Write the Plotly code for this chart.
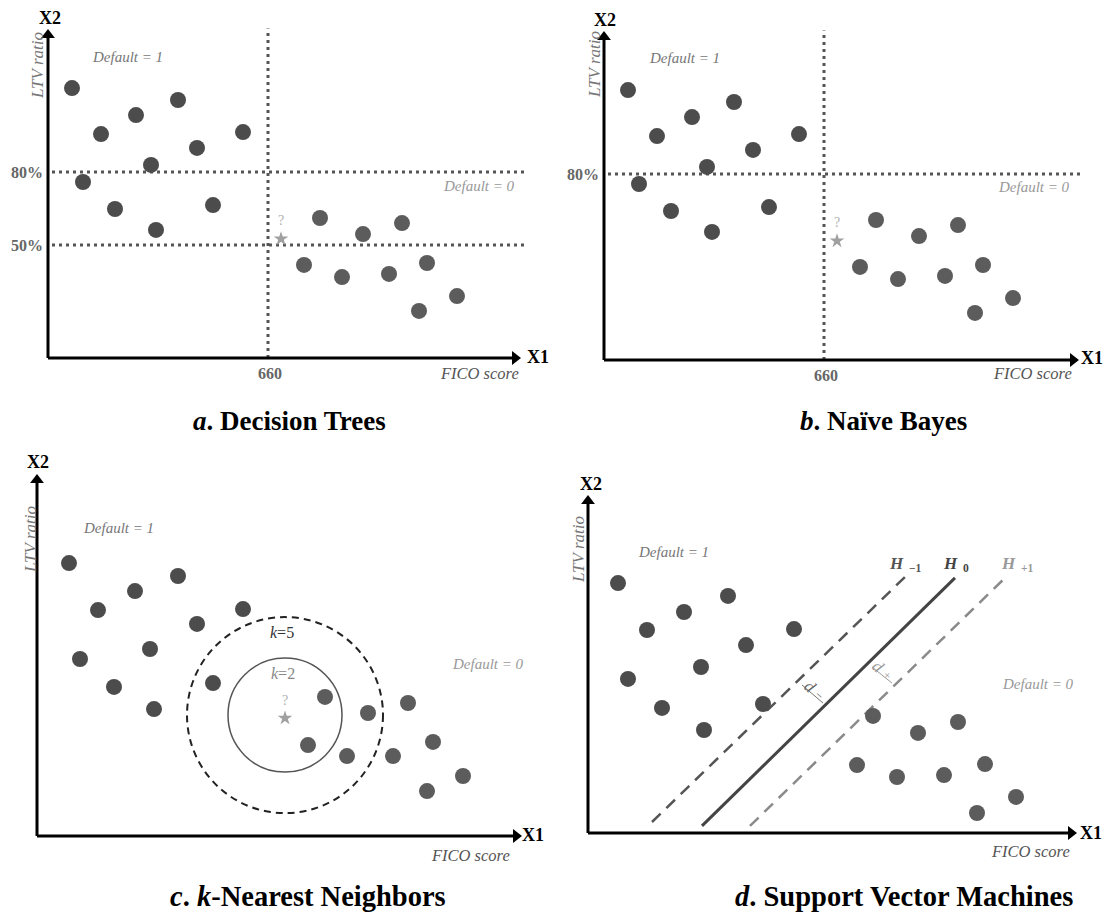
import plotly.graph_objects as go

W, H = 1104, 914
PX_PER_LTV = 73 / 30          # vertical pixels per LTV percentage point
SERIF = "Liberation Serif"

# ---------------- data (FICO score, LTV ratio in %) ----------------
# Applicants shown in panels a and b
AB_FICO_DEFAULT1 = [464, 493, 528, 570, 543, 589, 635, 475, 507, 605, 548]
AB_LTV_DEFAULT1 = [114.5, 95.6, 103.4, 109.6, 82.9, 89.9, 96.4, 75.9, 64.8, 66.4, 56.2]
AB_FICO_DEFAULT0 = [712, 755, 794, 696, 734, 781, 819, 811, 849]
AB_LTV_DEFAULT0 = [61.1, 54.5, 59.0, 41.8, 36.8, 38.1, 42.6, 22.9, 29.0]
AB_QUERY_FICO, AB_QUERY_LTV = 673, 52.5

# Applicants shown in panel c
C_FICO_DEFAULT1 = [462, 491, 528, 571, 543, 590, 636, 473, 507, 606, 547]
C_LTV_DEFAULT1 = [115.3, 96.0, 103.8, 110.0, 80.0, 90.3, 96.4, 75.9, 64.4, 66.0, 55.3]
C_FICO_DEFAULT0 = [718, 761, 801, 701, 740, 786, 826, 820, 856]
C_LTV_DEFAULT0 = [60.3, 53.7, 57.8, 40.5, 36.0, 36.0, 41.8, 21.6, 27.8]
C_QUERY_FICO, C_QUERY_LTV = 678, 51.6
K_RADII_PX = {"k=2": 57, "k=5": 98}

# Applicants shown in panel d
D_FICO_DEFAULT1 = [464, 493, 530, 574, 592, 640, 547, 474, 508, 609, 550]
D_LTV_DEFAULT1 = [114.5, 95.2, 102.6, 109.2, 89.0, 95.6, 80.0, 75.1, 63.2, 64.8, 54.1]
D_FICO_DEFAULT0 = [719, 764, 804, 703, 743, 790, 831, 823, 862]
D_LTV_DEFAULT0 = [59.9, 52.9, 57.4, 39.7, 34.8, 35.6, 40.1, 20.0, 26.6]
# Hyperplanes (two end points each)
H_MINUS1 = ([498, 751], [16.3, 117.0])
H_ZERO = ([548, 801], [14.7, 116.6])
H_PLUS1 = ([596, 851], [14.7, 116.6])
MARGIN_MINUS = ([648, 669], [72.6, 65.2])
MARGIN_PLUS = ([718, 738], [80.0, 73.4])

# Split rules
FICO_SPLIT = 660
LTV_SPLITS_TREE = [80, 50]
LTV_SPLITS_BAYES = [80]

# ---------------- panel layout ----------------
# box = (left, top, right, bottom) in px; dx: px = fico + dx ; y80: px row of LTV 80%
PANELS = {
    "a": dict(box=(0, 0, 552, 400), dx=-392, y80=172, ax="", origin=(440, 3.56), tip=(912, 138.4)),
    "b": dict(box=(552, 0, 1104, 400), dx=164, y80=174, ax="2", origin=(440, 3.56), tip=(914, 138.4)),
    "c": dict(box=(0, 440, 552, 870), dx=-393, y80=649, ax="3", origin=(430, 3.15), tip=(914, 151.5)),
    "d": dict(box=(552, 440, 1104, 870), dx=154, y80=667, ax="4", origin=(434, 11.8), tip=(922, 150.3)),
}

fig = go.Figure()
layout = dict(
    width=W, height=H, margin=dict(l=0, r=0, t=0, b=0),
    paper_bgcolor="white", plot_bgcolor="white", showlegend=False,
)
for key, p in PANELS.items():
    l, t, r, b = p["box"]
    ax = p["ax"]
    layout["xaxis" + ax] = dict(domain=[l / W, r / W], range=[l - p["dx"], r - p["dx"]],
                                visible=False, anchor="y" + ax, fixedrange=True)
    layout["yaxis" + ax] = dict(domain=[1 - b / H, 1 - t / H],
                                range=[80 - (b - p["y80"]) / PX_PER_LTV, 80 + (p["y80"] - t) / PX_PER_LTV],
                                visible=False, anchor="x" + ax, fixedrange=True)
fig.update_layout(**layout)

shapes, annotations = [], []


def paper(px, py):
    return px / W, 1 - py / H


def text(px, py, s, size=14, color="#777", italic=False, bold=False, angle=0, xanchor="center"):
    x, y = paper(px, py)
    annotations.append(dict(
        x=x, y=y, xref="paper", yref="paper", text=s, showarrow=False, textangle=angle,
        xanchor=xanchor, yanchor="middle",
        font=dict(family=SERIF, size=size, color=color,
                  style="italic" if italic else "normal", weight="bold" if bold else "normal"),
    ))


def subscripted(px, py, main, sub, size, color, bold=False):
    """Italic symbol ending at px with a smaller subscript right after it."""
    text(px, py, main, size, color, italic=True, bold=bold, xanchor="right")
    text(px + 1, py + size * 0.3, sub, size * 0.68, color, bold=bold, xanchor="left")


def dots(key, fx, fy, color):
    ax = PANELS[key]["ax"]
    fig.add_trace(go.Scatter(x=fx, y=fy, mode="markers", xaxis="x" + ax, yaxis="y" + ax,
                             marker=dict(size=16, color=color), cliponaxis=False, hoverinfo="skip"))


def query(key, fx, fy):
    ax = PANELS[key]["ax"]
    fig.add_trace(go.Scatter(x=[fx], y=[fy], mode="markers", xaxis="x" + ax, yaxis="y" + ax,
                             marker=dict(symbol="star", size=11, color="#a0a0a0"),
                             cliponaxis=False, hoverinfo="skip"))
    annotations.append(dict(x=fx, y=fy, xref="x" + ax, yref="y" + ax, text="?", showarrow=False,
                            yshift=18, font=dict(family=SERIF, size=14, color="#b0b0b0")))


def line(key, xs, ys, color, width, dash="solid", layer="below"):
    ax = PANELS[key]["ax"]
    shapes.append(dict(type="line", xref="x" + ax, yref="y" + ax, x0=xs[0], x1=xs[1], y0=ys[0], y1=ys[1],
                       line=dict(color=color, width=width, dash=dash), layer=layer))


def axes_arrows(key):
    """Draw the X1 / X2 axis lines with filled arrow heads ending at the tips."""
    p = PANELS[key]
    ax = p["ax"]
    ox, oy = p["origin"]
    tx, ty = p["tip"]
    hx, hy = tx - 5, ty - 5 / PX_PER_LTV      # centre of each head
    line(key, [ox, hx], [oy, oy], "black", 3, layer="above")
    line(key, [ox, ox], [oy, hy], "black", 3, layer="above")
    fig.add_trace(go.Scatter(x=[hx, ox], y=[oy, hy], mode="markers", xaxis="x" + ax, yaxis="y" + ax,
                             marker=dict(symbol=["triangle-right", "triangle-up"], size=12, color="black"),
                             cliponaxis=False, hoverinfo="skip"))


DOT = "3px,4px"
C1, C0 = "#4c4c4c", "#5c5c5c"
LBL = dict(default=15, fico=16.5, ltv=17, x=18, pct=16)

# ---------- a. Decision Trees ----------
pa = PANELS["a"]
line("a", [FICO_SPLIT, FICO_SPLIT], [pa["origin"][1], 139], "#555", 3, DOT)
for v in LTV_SPLITS_TREE:
    line("a", [pa["origin"][0] + 4, 920], [v, v], "#555", 3, DOT)
    annotations.append(dict(x=pa["origin"][0], y=v, xref="x", yref="y", text=f"{v}%", showarrow=False,
                            xanchor="right", xshift=-3,
                            font=dict(family=SERIF, size=LBL["pct"], color="#666", weight="bold")))
dots("a", AB_FICO_DEFAULT1, AB_LTV_DEFAULT1, C1)
dots("a", AB_FICO_DEFAULT0, AB_LTV_DEFAULT0, C0)
query("a", AB_QUERY_FICO, AB_QUERY_LTV)
axes_arrows("a")
annotations.append(dict(x=FICO_SPLIT, y=pa["origin"][1], xref="x", yref="y", text=str(FICO_SPLIT),
                        showarrow=False, yanchor="top", yshift=-5, xshift=2,
                        font=dict(family=SERIF, size=16, color="#666", weight="bold")))
text(50, 18, "X2", LBL["x"], "black", bold=True)
text(37, 66, "LTV ratio", LBL["ltv"], "#777", italic=True, angle=-90)
text(127, 57, "Default = 1", LBL["default"], "#777", italic=True)
text(479, 186, "Default = 0", LBL["default"], "#999", italic=True)
text(538, 357, "X1", LBL["x"], "black", bold=True)
text(479, 373, "FICO score", LBL["fico"], "#555", italic=True)
text(289, 421, "<i>a</i>. Decision Trees", 27, "black", bold=True)

# ---------- b. Naïve Bayes ----------
pb = PANELS["b"]
line("b", [FICO_SPLIT, FICO_SPLIT], [pb["origin"][1], 139], "#555", 3, DOT)
for v in LTV_SPLITS_BAYES:
    line("b", [pb["origin"][0] + 4, 918], [v, v], "#555", 3, DOT)
    annotations.append(dict(x=pb["origin"][0], y=v, xref="x2", yref="y2", text=f"{v}%", showarrow=False,
                            xanchor="right", xshift=-3,
                            font=dict(family=SERIF, size=LBL["pct"], color="#666", weight="bold")))
dots("b", AB_FICO_DEFAULT1, AB_LTV_DEFAULT1, C1)
dots("b", AB_FICO_DEFAULT0, AB_LTV_DEFAULT0, C0)
query("b", AB_QUERY_FICO, AB_QUERY_LTV)
axes_arrows("b")
annotations.append(dict(x=FICO_SPLIT, y=pb["origin"][1], xref="x2", yref="y2", text=str(FICO_SPLIT),
                        showarrow=False, yanchor="top", yshift=-5, xshift=2,
                        font=dict(family=SERIF, size=16, color="#666", weight="bold")))
text(605, 20, "X2", LBL["x"], "black", bold=True)
text(594, 64, "LTV ratio", LBL["ltv"], "#777", italic=True, angle=-90)
text(684, 58, "Default = 1", LBL["default"], "#777", italic=True)
text(1034, 187, "Default = 0", LBL["default"], "#999", italic=True)
text(1092, 358, "X1", LBL["x"], "black", bold=True)
text(1032, 373, "FICO score", LBL["fico"], "#555", italic=True)
text(883, 421, "<i>b</i>. Naïve Bayes", 27, "black", bold=True)

# ---------- c. k-Nearest Neighbors ----------
for label, r in K_RADII_PX.items():
    dashed = label == "k=5"
    shapes.append(dict(type="circle", xref="x3", yref="y3", xsizemode="pixel", ysizemode="pixel",
                       xanchor=C_QUERY_FICO, yanchor=C_QUERY_LTV, x0=-r, x1=r, y0=-r + 3, y1=r + 3,
                       line=dict(color="#222" if dashed else "#555", width=2 if dashed else 1.5,
                                 dash="7px,5px" if dashed else "solid"),
                       layer="below"))
dots("c", C_FICO_DEFAULT1, C_LTV_DEFAULT1, C1)
dots("c", C_FICO_DEFAULT0, C_LTV_DEFAULT0, C0)
query("c", C_QUERY_FICO, C_QUERY_LTV)
axes_arrows("c")
text(282, 632, "<i>k</i>=5", 16, "#333")
text(283, 673, "<i>k</i>=2", 16, "#888")
text(38, 462, "X2", LBL["x"], "black", bold=True)
text(30, 540, "LTV ratio", LBL["ltv"], "#777", italic=True, angle=-90)
text(118, 528, "Default = 1", LBL["default"], "#777", italic=True)
text(488, 664, "Default = 0", LBL["default"], "#999", italic=True)
text(533, 835, "X1", LBL["x"], "black", bold=True)
text(470, 855, "FICO score", LBL["fico"], "#555", italic=True)
text(308, 896, "<i>c</i>. <i>k</i>-Nearest Neighbors", 28.5, "black", bold=True)

# ---------- d. Support Vector Machines ----------
line("d", *H_MINUS1, "#555", 2.5, "12px,8px")
line("d", *H_ZERO, "#444", 3)
line("d", *H_PLUS1, "#8a8a8a", 2.5, "12px,8px")
line("d", *MARGIN_MINUS, "#777", 1)
line("d", *MARGIN_PLUS, "#999", 1)
dots("d", D_FICO_DEFAULT1, D_LTV_DEFAULT1, C1)
dots("d", D_FICO_DEFAULT0, D_LTV_DEFAULT0, C0)
axes_arrows("d")
text(810, 686, "<i>d</i>", 17, "#666", angle=42)
text(819, 695, "−", 12, "#666", angle=42)
text(878, 666, "<i>d</i>", 17, "#999", angle=42)
text(887, 675, "+", 12, "#999", angle=42)
subscripted(906, 563, "H", "−1", 17, "#555", bold=True)
subscripted(960, 563, "H", "0", 17, "#444", bold=True)
subscripted(1018, 563, "H", "+1", 17, "#999", bold=True)
text(591, 484, "X2", LBL["x"], "black", bold=True)
text(578, 550, "LTV ratio", LBL["ltv"], "#777", italic=True, angle=-90)
text(673, 552, "Default = 1", LBL["default"], "#777", italic=True)
text(1038, 684, "Default = 0", LBL["default"], "#999", italic=True)
text(1091, 833, "X1", LBL["x"], "black", bold=True)
text(1030, 851, "FICO score", LBL["fico"], "#555", italic=True)
text(904, 896, "<i>d</i>. Support Vector Machines", 28.5, "black", bold=True)

fig.update_layout(shapes=shapes, annotations=annotations)
fig.write_html("out.html")
